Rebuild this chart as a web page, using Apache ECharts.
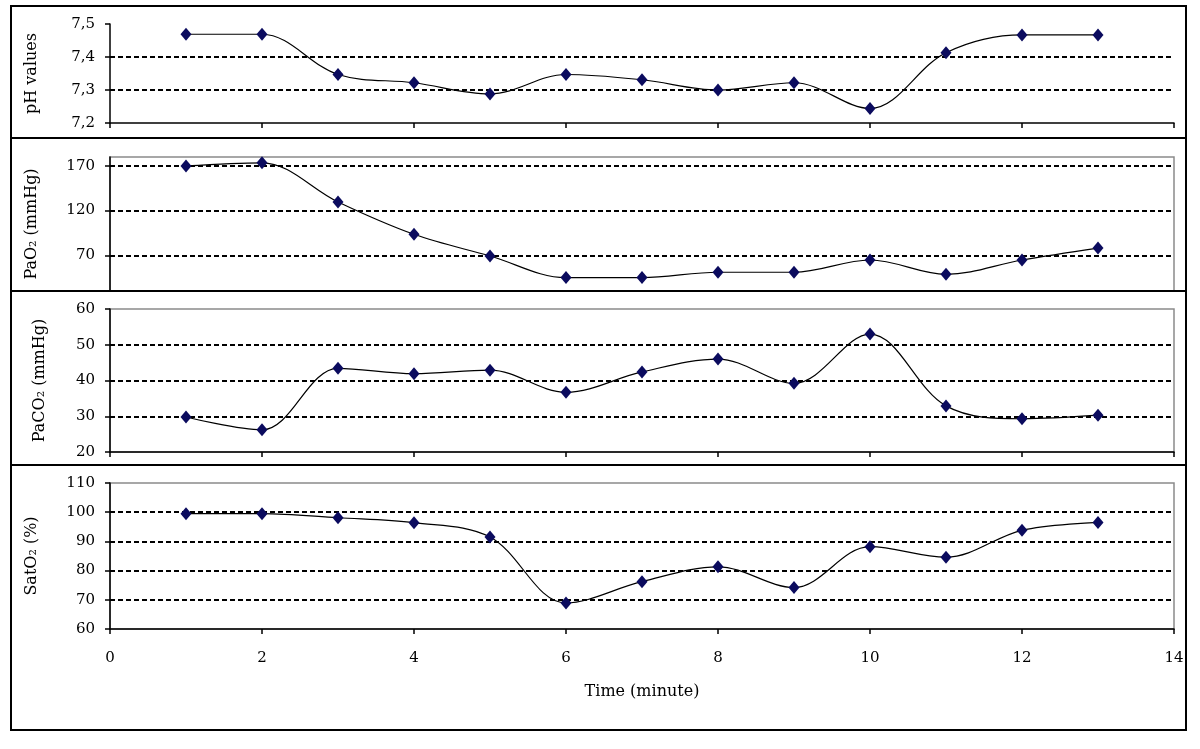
<!DOCTYPE html>
<html>
<head>
<meta charset="utf-8">
<script src="https://cdn.jsdelivr.net/npm/echarts@6/dist/echarts.min.js"></script>
<style>
html,body{margin:0;padding:0;background:#fff;}
#c{width:1200px;height:749px;}
</style>
</head>
<body>
<div id="c"></div>
<script>
// ---- data ----
const timeMinutes = [1, 2, 3, 4, 5, 6, 7, 8, 9, 10, 11, 12, 13];
const phValues   = [7.469, 7.469, 7.347, 7.322, 7.288, 7.347, 7.331, 7.300, 7.322, 7.244, 7.413, 7.467, 7.467];
const pao2Values = [170, 173.5, 129.7, 93.5, 69.2, 45, 45, 51, 51, 64.7, 48.7, 64.7, 78];
const paco2Values = [29.8, 26.2, 43.4, 41.9, 42.9, 36.7, 42.4, 46, 39.2, 53.0, 32.9, 29.3, 30.3];
const sato2Values = [99.5, 99.5, 98.1, 96.4, 91.5, 68.9, 76.2, 81.3, 74.2, 88.2, 84.6, 93.8, 96.5];
const pao2Ticks = [70, 120, 170];
const yNames = ['pH values', 'PaO\u2082 (mmHg)', 'PaCO\u2082 (mmHg)', 'SatO\u2082 (%)'];
const xAxisTitle = 'Time (minute)';

// ---- layout / style ----
const FONT = 'DejaVu Serif';
const panels = [
  {values: phValues, min: 7.2, max: 7.5, interval: 0.1, top: 24, height: 99, border: false, nameGap: 70,
   fmt: v => v.toFixed(1).replace('.', ','), showX: true},
  {values: pao2Values, min: 30, max: 180, custom: pao2Ticks, top: 157, height: 134, border: true, nameGap: 70,
   fmt: v => String(v), showX: false},
  {values: paco2Values, min: 20, max: 60, interval: 10, top: 309, height: 143, border: true, nameGap: 62,
   fmt: v => String(v), showX: true},
  {values: sato2Values, min: 60, max: 110, interval: 10, top: 483, height: 146, border: true, nameGap: 70,
   fmt: v => String(v), showX: true, labels: true}
];

const grids = [], xAxes = [], yAxes = [], series = [];
panels.forEach((p, i) => {
  grids.push({
    left: 110, width: 1064, top: p.top, height: p.height,
    show: p.border, borderColor: '#8a8a8a', borderWidth: 1.5, backgroundColor: 'transparent'
  });
  xAxes.push({
    type: 'value', gridIndex: i, min: 0, max: 14, interval: 2,
    show: p.showX,
    axisLine: {show: true, onZero: false, lineStyle: {color: '#000', width: 1.5}},
    axisTick: {show: true, length: 5, lineStyle: {color: '#000', width: 1.5}},
    axisLabel: {show: !!p.labels, margin: 22, color: '#000', fontFamily: FONT, fontSize: 15},
    splitLine: {show: false},
    name: p.labels ? xAxisTitle : '',
    nameLocation: 'middle', nameGap: 55,
    nameTextStyle: {color: '#000', fontFamily: FONT, fontSize: 16}
  });
  const y = {
    type: 'value', gridIndex: i, min: p.min, max: p.max,
    name: yNames[i], nameLocation: 'middle', nameGap: p.nameGap,
    nameTextStyle: {color: '#000', fontFamily: FONT, fontSize: 16},
    axisLine: {show: true, onZero: false, lineStyle: {color: '#000', width: 1.5}},
    axisTick: {show: true, length: 5, lineStyle: {color: '#000', width: 1.5}},
    axisLabel: {margin: 15, color: '#000', fontFamily: FONT, fontSize: 15, formatter: p.fmt},
    splitLine: {show: true, showMinLine: !!p.custom, showMaxLine: !!p.custom,
      lineStyle: {color: '#000', width: 2, type: [5, 3]}}
  };
  if (p.custom) {
    y.axisTick.customValues = p.custom;
    y.axisLabel.customValues = p.custom;
  } else {
    y.interval = p.interval;
  }
  yAxes.push(y);
  series.push({
    type: 'line', xAxisIndex: i, yAxisIndex: i,
    data: timeMinutes.map((t, k) => [t, p.values[k]]),
    smooth: 0.35,
    symbol: 'diamond', symbolSize: [11, 13], showAllSymbol: true,
    itemStyle: {color: '#0b0b5e'},
    lineStyle: {color: '#000', width: 1.2},
    z: 5
  });
});

const chart = echarts.init(document.getElementById('c'));
chart.setOption({
  animation: false,
  backgroundColor: '#fff',
  grid: grids,
  xAxis: xAxes,
  yAxis: yAxes,
  series: series,
  graphic: [
    {type: 'rect', z: 100, shape: {x: 11, y: 6, width: 1175, height: 724},
     style: {fill: 'none', stroke: '#000', lineWidth: 2}},
    {type: 'line', z: 100, shape: {x1: 11, y1: 138, x2: 1186, y2: 138}, style: {stroke: '#000', lineWidth: 2}},
    {type: 'line', z: 100, shape: {x1: 11, y1: 291, x2: 1186, y2: 291}, style: {stroke: '#000', lineWidth: 2}},
    {type: 'line', z: 100, shape: {x1: 11, y1: 465, x2: 1186, y2: 465}, style: {stroke: '#000', lineWidth: 2}}
  ]
});
</script>
</body>
</html>
